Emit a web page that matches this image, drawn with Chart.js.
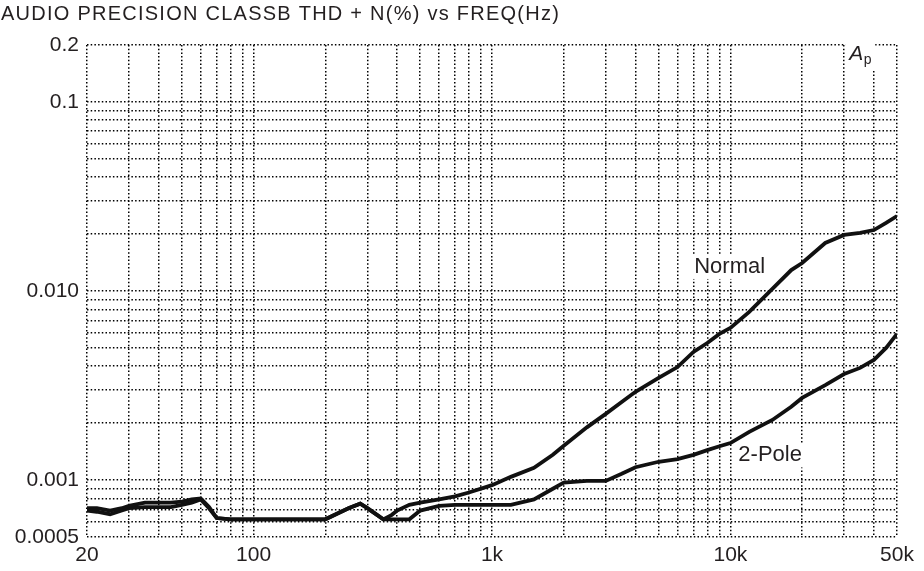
<!DOCTYPE html>
<html>
<head>
<meta charset="utf-8">
<script src="https://cdn.jsdelivr.net/npm/chart.js@4/dist/chart.umd.min.js"></script>
<style>
  html, body { margin: 0; padding: 0; background: #fff; }
  #wrap { width: 924px; height: 571px; position: relative; }
</style>
</head>
<body>
<div id="wrap"><canvas id="thd"></canvas></div>
<script>
// frequency points (Hz) shared by both traces
const freqHz = [20, 22, 25, 28, 30, 35, 40, 45, 50, 55, 60, 65, 70, 80, 100, 150, 200, 250, 280, 300,
  350, 380, 400, 450, 500, 600, 700, 800, 1000, 1200, 1500, 1800, 2000, 2500, 3000, 3500, 4000,
  5000, 6000, 7000, 8000, 9000, 10000, 12000, 15000, 18000, 20000, 25000, 30000, 35000, 40000, 45000, 50000];

// THD+N (%)
const normalPct = [0.00071, 0.00071, 0.00069, 0.00071, 0.00073, 0.00076, 0.00076, 0.00076, 0.00077, 0.00079,
  0.0008, 0.00072, 0.00063, 0.00062, 0.00062, 0.00062, 0.00062, 0.00071, 0.00075, 0.00071,
  0.00062, 0.000655, 0.00069, 0.00074, 0.00076, 0.00079, 0.00082, 0.00086, 0.00094, 0.00104, 0.00116,
  0.00136, 0.00152, 0.0019, 0.00224, 0.00259, 0.00293, 0.00347, 0.00396, 0.00476, 0.00531, 0.00593,
  0.00637, 0.00775, 0.01025, 0.0129, 0.01406, 0.01795, 0.0198, 0.0203, 0.021, 0.0229, 0.0249];

const twoPolePct = [0.00069, 0.00068, 0.00066, 0.00069, 0.00071, 0.00072, 0.00072, 0.00072, 0.00074, 0.00076,
  0.00079, 0.00071, 0.00063, 0.00062, 0.00062, 0.00062, 0.00062, 0.00071, 0.00075, 0.00071,
  0.00062, 0.00062, 0.00062, 0.00062, 0.00069, 0.00073, 0.00074, 0.00074, 0.00074, 0.00074, 0.00079,
  0.0009, 0.00097, 0.00099, 0.00099, 0.00108, 0.00117, 0.00125, 0.00129, 0.00136, 0.00144, 0.00151,
  0.00157, 0.0018, 0.00208, 0.00244, 0.00272, 0.00318, 0.00364, 0.00392, 0.00432, 0.005, 0.00593];

// labelled ticks
const xTickHz = [20, 100, 1000, 10000, 50000];
const xTickText = ['20', '100', '1k', '10k', '50k'];
const yTickPct = [0.2, 0.1, 0.01, 0.001, 0.0005];
const yTickText = ['0.2', '0.1', '0.010', '0.001', '0.0005'];

const titleText = 'AUDIO PRECISION CLASSB THD + N(%) vs FREQ(Hz)';
const ink = '#231f20';
const FONT = '"Liberation Sans", Arial, Helvetica, sans-serif';

// full log grid (1..9 per decade) between limits
function logGrid(min, max) {
  const out = [];
  for (let e = Math.floor(Math.log10(min)); e <= Math.ceil(Math.log10(max)); e++) {
    for (let m = 1; m <= 9; m++) {
      const v = +(m * Math.pow(10, e)).toPrecision(3);
      if (v >= min * 0.9999 && v <= max * 1.0001) out.push(v);
    }
  }
  if (out[0] !== min) out.unshift(min);
  if (out[out.length - 1] !== max) out.push(max);
  return out;
}

function labelFor(vals, texts, v) {
  const i = vals.findIndex(t => Math.abs(t - v) / t < 1e-6);
  return i >= 0 ? texts[i] : '';
}

// text with a white patch behind it, so grid dots don't run through
function boxedText(ctx, txt, x, y) {
  const w = ctx.measureText(txt).width;
  ctx.save();
  ctx.fillStyle = '#fff';
  ctx.fillRect(x - 3, y - 12, w + 6, 24);
  ctx.restore();
  ctx.fillText(txt, x, y);
}

const notes = {
  id: 'notes',
  afterDraw(chart) {
    const { ctx, scales: { x, y } } = chart;
    ctx.save();
    ctx.fillStyle = ink;
    ctx.textBaseline = 'middle';
    ctx.textAlign = 'left';
    ctx.font = '20px ' + FONT;
    if ('letterSpacing' in ctx) ctx.letterSpacing = '1.25px';
    ctx.fillText(titleText, 1, 14);
    if ('letterSpacing' in ctx) ctx.letterSpacing = '0px';

    ctx.font = '22px ' + FONT;
    boxedText(ctx, 'Normal', x.getPixelForValue(7050), y.getPixelForValue(0.0134));
    boxedText(ctx, '2-Pole', x.getPixelForValue(10800), y.getPixelForValue(0.00135));

    ctx.font = 'italic 21px ' + FONT;
    const ax = x.getPixelForValue(31500), ay = y.getPixelForValue(0.178);
    ctx.save();
    ctx.fillStyle = '#fff';
    ctx.fillRect(ax - 4, ay - 14, 30, 30);
    ctx.restore();
    ctx.fillText('A', ax, ay);
    const w = ctx.measureText('A').width;
    ctx.font = '14px ' + FONT;
    ctx.fillText('p', ax + w + 0.5, ay + 6);
    ctx.restore();
  }
};

new Chart(document.getElementById('thd'), {
  type: 'line',
  data: {
    datasets: [
      {
        label: 'Normal',
        data: freqHz.map((f, i) => ({ x: f, y: normalPct[i] })),
        borderColor: '#111',
        borderWidth: 3.8,
        pointRadius: 0,
        tension: 0,
        fill: false
      },
      {
        label: '2-Pole',
        data: freqHz.map((f, i) => ({ x: f, y: twoPolePct[i] })),
        borderColor: '#111',
        borderWidth: 3.8,
        pointRadius: 0,
        tension: 0,
        fill: false
      }
    ]
  },
  options: {
    responsive: true,
    maintainAspectRatio: false,
    animation: false,
    layout: { padding: { top: 45, right: 27, left: 0, bottom: 0 } },
    plugins: {
      legend: { display: false },
      tooltip: { enabled: false }
    },
    scales: {
      x: {
        type: 'logarithmic',
        min: 20,
        max: 50000,
        afterBuildTicks: s => { s.ticks = logGrid(20, 50000).map(v => ({ value: v })); },
        afterFit: s => { s.height = 34; },
        ticks: {
          autoSkip: false,
          maxRotation: 0,
          padding: 6,
          color: ink,
          font: { family: FONT, size: 21 },
          callback: v => labelFor(xTickHz, xTickText, v)
        },
        grid: { color: '#000', lineWidth: 1.5, drawTicks: false },
        border: { display: false, dash: [1.5, 2.2] }
      },
      y: {
        type: 'logarithmic',
        min: 0.0005,
        max: 0.2,
        afterBuildTicks: s => { s.ticks = logGrid(0.0005, 0.2).map(v => ({ value: v })); },
        afterFit: s => { s.width = 87; },
        ticks: {
          autoSkip: false,
          padding: 8,
          color: ink,
          font: { family: FONT, size: 21 },
          callback: v => labelFor(yTickPct, yTickText, v)
        },
        grid: { color: '#000', lineWidth: 1.5, drawTicks: false },
        border: { display: false, dash: [1.5, 2.2] }
      }
    }
  },
  plugins: [notes]
});
</script>
</body>
</html>
